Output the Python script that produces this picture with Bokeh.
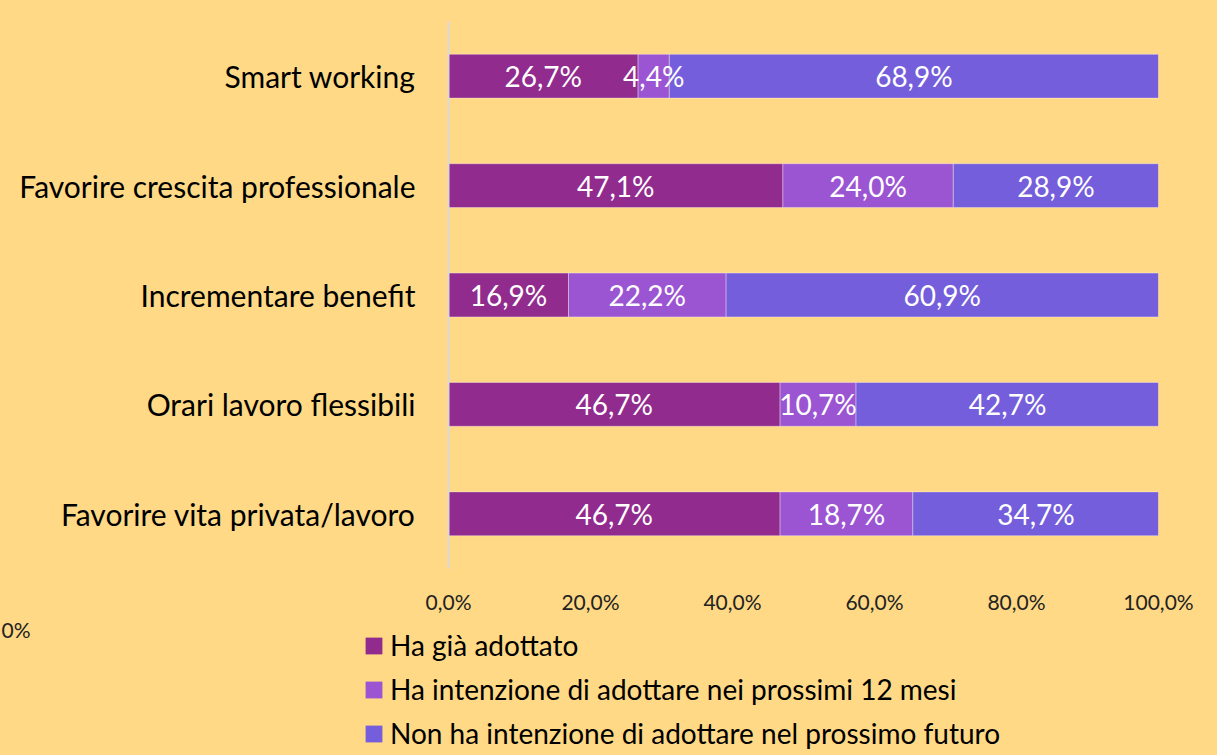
from bokeh.plotting import figure
from bokeh.layouts import column
from bokeh.models import ColumnDataSource, Legend, LegendItem, FactorRange, Label, FixedTicker, LabelSet
from bokeh.core.properties import value
from bokeh.embed import file_html
from bokeh.resources import INLINE

categories = ["Smart working", "Favorire crescita professionale", "Incrementare benefit",
              "Orari lavoro flessibili", "Favorire vita privata/lavoro"]
adottato = [26.7, 47.1, 16.9, 46.7, 46.7]
intenzione = [4.4, 24.0, 22.2, 10.7, 18.7]
non_intenzione = [68.9, 28.9, 60.9, 42.7, 34.7]
series_names = ["Ha già adottato", "Ha intenzione di adottare nei prossimi 12 mesi",
                "Non ha intenzione di adottare nel prossimo futuro"]
colors = ["#922B8E", "#9B55D3", "#745EDB"]
tick_values = [0, 20, 40, 60, 80, 100]
stray_label = "0%"

FONT = "Lato"
BG = "#FFD985"

# ---- main chart ----
p = figure(width=1217, height=616, output_backend="svg", toolbar_location=None,
           y_range=FactorRange(*reversed(categories)), x_range=(0, 100),
           min_border_left=448, min_border_right=59, min_border_top=21, min_border_bottom=45)
p.frame_align = False
p.background_fill_color = BG
p.border_fill_color = BG
p.outline_line_color = None
p.grid.visible = False

# ---- legend strip ----
q = figure(width=1217, height=139, output_backend="svg", toolbar_location=None,
           x_range=(0, 100), y_range=FactorRange(*reversed(categories)),
           x_axis_location=None, y_axis_location=None,
           min_border_left=0, min_border_right=0, min_border_top=0, min_border_bottom=0)
q.frame_align = False
q.background_fill_color = BG
q.border_fill_color = BG
q.outline_line_color = None
q.grid.visible = False

series = [adottato, intenzione, non_intenzione]
legend_renderers = []
left = [0.0] * len(categories)
for vals, col in zip(series, colors):
    right = [l + v for l, v in zip(left, vals)]
    src = ColumnDataSource(dict(y=categories, left=left, right=right,
                                mid=[(l + r) / 2 for l, r in zip(left, right)],
                                txt=[f"{v:.1f}%".replace(".", ",") for v in vals]))
    p.hbar(y="y", left="left", right="right", height=0.4, source=src,
           fill_color=col, line_color="white", line_alpha=0.35, line_width=1)
    p.add_layout(LabelSet(x="mid", y="y", text="txt", source=src, text_align="center",
                          text_baseline="middle", text_color="white", text_font=value(FONT),
                          text_font_size="28px"))
    # hidden proxy of the same series, used only for the legend swatch
    legend_renderers.append(q.hbar(y="y", left="left", right="right", height=0.4, source=src,
                                   fill_color=col, line_color=None, visible=False))
    left = right

p.yaxis.axis_line_color = "#D9D9D9"
p.yaxis.axis_line_width = 2
p.yaxis.major_tick_line_color = None
p.yaxis.minor_tick_line_color = None
p.yaxis.major_label_standoff = 27
p.yaxis.major_label_text_font = FONT
p.yaxis.major_label_text_font_size = "30px"
p.yaxis.major_label_text_color = "#000000"

p.xaxis.ticker = FixedTicker(ticks=tick_values)
p.xaxis.major_label_overrides = {t: f"{t:.1f}%".replace(".", ",") for t in tick_values}
p.xaxis.axis_line_color = None
p.xaxis.major_tick_line_color = None
p.xaxis.minor_tick_line_color = None
p.xaxis.major_tick_out = 0
p.xaxis.major_tick_in = 0
p.xaxis.major_label_standoff = 20
p.xaxis.major_label_text_font = FONT
p.xaxis.major_label_text_font_size = "21px"
p.xaxis.major_label_text_color = "#222222"

legend = Legend(items=[LegendItem(label=n, renderers=[r]) for n, r in zip(series_names, legend_renderers)],
                location=(363, 5), orientation="vertical",
                glyph_width=21, glyph_height=21, label_standoff=6, spacing=10,
                padding=0, margin=0, label_height=34,
                label_text_font=FONT, label_text_font_size="28px", label_text_color="#000000",
                background_fill_alpha=0, border_line_color=None)
q.add_layout(legend, "center")
q.add_layout(Label(x=1, y=126, x_units="screen", y_units="screen", text=stray_label,
                   text_baseline="middle", text_font=FONT, text_font_size="21px",
                   text_color="#222222"))

layout = column(p, q, spacing=0, styles={"background-color": BG})
open("out.html", "w").write(file_html(layout, INLINE))
